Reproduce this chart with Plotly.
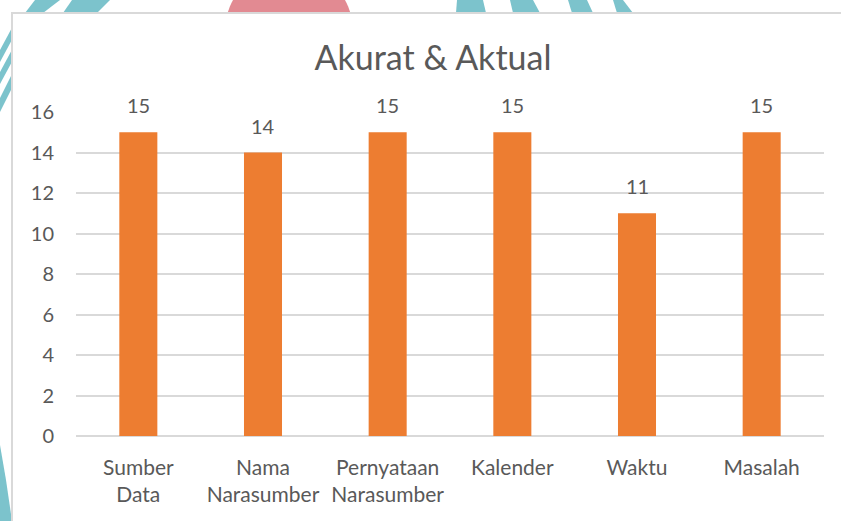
import plotly.graph_objects as go

categories = ["Sumber<br>Data", "Nama<br>Narasumber", "Pernyataan<br>Narasumber", "Kalender", "Waktu", "Masalah"]
values = [15, 14, 15, 15, 11, 15]
y_ticks = [0, 2, 4, 6, 8, 10, 12, 14, 16]
title_text = "Akurat &amp; Aktual"

W, H = 841, 521
L, R, T, B = 76, 17, 112, 85
PW, PH = W - L - R, H - T - B

def px(x):
    return (x - L) / PW

def py(y):
    return (H - B - y) / PH

def path(points):
    return "M " + " L ".join(f"{px(a):.5f},{py(b):.5f}" for a, b in points) + " Z"

FONT = "Lato, 'Open Sans', sans-serif"
TXT = "#595959"
CYAN = "#7cc3cc"
RED = "#e28a92"

shapes = []
# decorative background (outside the chart box)
left_stripes = [
    [(0, 50), (0, 62), (14, 36), (14, 24)],
    [(0, 72), (0, 84), (14, 58), (14, 46)],
    [(0, 98), (0, 112), (14, 84), (14, 70)],
    [(25, 13), (43, 13), (60, 0), (35, 0)],
    [(63, 13), (97, 13), (110, 0), (72, 0)],
]
top_stripes = [
    [(456, 13), (486, 13), (483, 0), (457, 0)],
    [(513, 13), (540, 13), (533, 0), (510, 0)],
    [(572, 13), (593, 13), (587, 0), (568, 0)],
    [(617, 13), (633, 13), (623, 0), (613, 0)],
]
for pts in left_stripes + top_stripes:
    shapes.append(dict(type="path", xref="paper", yref="paper", path=path(pts),
                       fillcolor=CYAN, line=dict(width=0), layer="below"))
shapes.append(dict(type="path", xref="paper", yref="paper",
                   path=path([(0, 445), (6, 480), (12, 521), (0, 521)]),
                   fillcolor=CYAN, line=dict(width=0), layer="below"))
shapes.append(dict(type="circle", xref="paper", yref="paper",
                   x0=px(225), x1=px(353), y0=py(95), y1=py(-33),
                   fillcolor=RED, line=dict(width=0), layer="below"))
# chart box
shapes.append(dict(type="rect", xref="paper", yref="paper",
                   x0=px(12), x1=px(860), y0=py(540), y1=py(13),
                   fillcolor="white", line=dict(color="#d9d9d9", width=2), layer="below"))

fig = go.Figure(go.Bar(
    x=categories, y=values, width=0.305,
    marker=dict(color="#ed7d31", line=dict(width=0)),
    hoverinfo="skip",
))

annotations = [
    dict(x=c, y=v, text=str(v), showarrow=False, yanchor="bottom", yshift=13,
         font=dict(family=FONT, size=20, color=TXT))
    for c, v in zip(categories, values)
]

fig.update_layout(
    width=W, height=H,
    margin=dict(l=L, r=R, t=T, b=B, pad=0),
    paper_bgcolor="white", plot_bgcolor="rgba(0,0,0,0)",
    title=dict(text=title_text, x=(433 / W), xanchor="center", y=1 - 58 / H, yanchor="middle",
               font=dict(family=FONT, size=34, color=TXT)),
    showlegend=False,
    shapes=shapes,
    annotations=annotations,
    bargap=0.7,
)
fig.update_yaxes(range=[0, 16], tickvals=y_ticks, showgrid=True, gridcolor="#d9d9d9", gridwidth=1.5,
                 zeroline=True, zerolinecolor="#d9d9d9", zerolinewidth=1.5, showline=False,
                 tickfont=dict(family=FONT, size=20, color=TXT), ticklabelstandoff=21, fixedrange=True)
fig.update_xaxes(showline=False, showgrid=False, tickfont=dict(family=FONT, size=21, color=TXT),
                 ticklabelstandoff=17, fixedrange=True)

fig.write_html("out.html", config={"displayModeBar": False},
               post_script="document.body.style.margin='0';document.body.style.overflow='hidden';")
